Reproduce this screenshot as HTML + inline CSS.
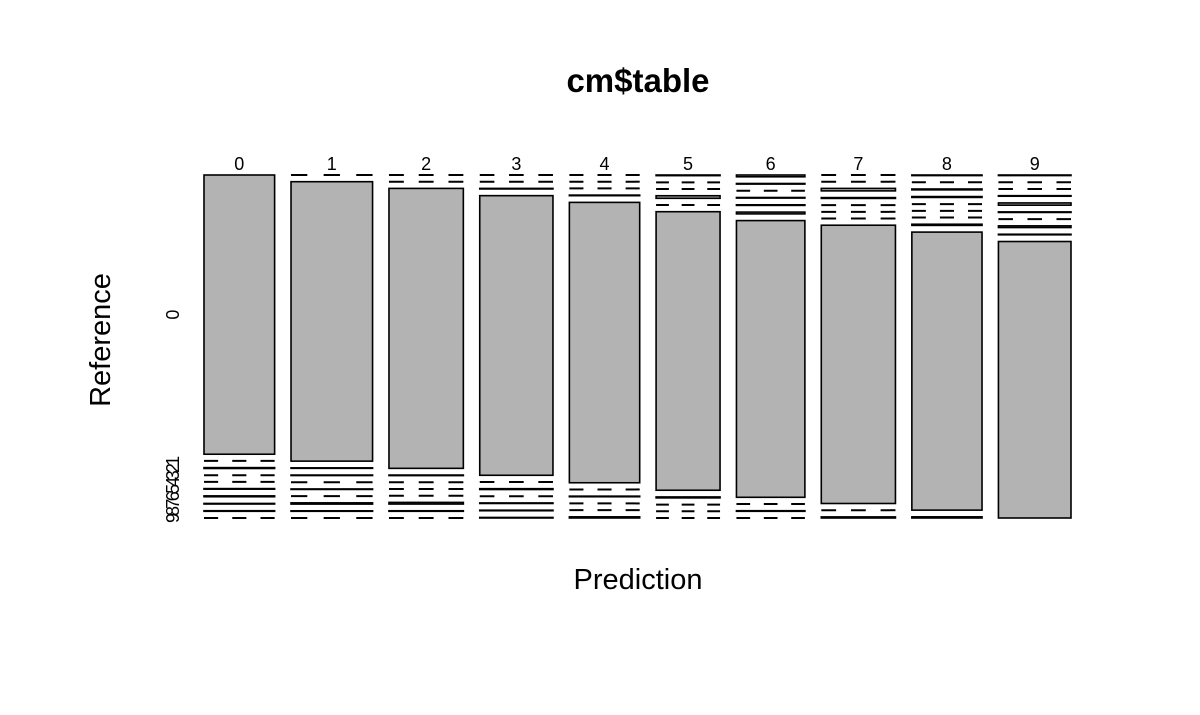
<!DOCTYPE html>
<html><head><meta charset="utf-8"><style>
html,body{margin:0;padding:0;background:#fff;}
svg{display:block;font-family:"Liberation Sans",Arial,sans-serif;}
</style></head><body>
<svg id="chart" width="1200" height="715" viewBox="0 0 1200 715">
<text x="638" y="92" text-anchor="middle" font-size="33" font-weight="bold">cm$table</text>
<text x="638" y="589" text-anchor="middle" font-size="29">Prediction</text>
<text transform="translate(110,340) rotate(-90)" text-anchor="middle" font-size="29">Reference</text>
<g id="marks"></g>
</svg>
<script>
const predLabels = ["0","1","2","3","4","5","6","7","8","9"];
const refLabels = ["0","1","2","3","4","5","6","7","8","9"];
// counts[prediction][reference]
const col0 = [963,0,3,0,0,2,3,2,2,0];
const col1 = [0,1113,2,2,0,2,0,5,2,0];
const col2 = [0,0,1017,2,0,0,0,6,2,0];
const col3 = [0,0,2,1000,0,3,0,2,2,2];
const col4 = [0,0,0,2,963,0,2,0,0,4];
const col5 = [2,0,0,8,0,870,3,0,0,0];
const col6 = [6,2,0,2,2,6,925,0,2,0];
const col7 = [0,0,9,3,0,0,0,1008,0,4];
const col8 = [2,0,3,3,0,0,0,4,953,4];
const col9 = [2,0,0,2,8,2,0,6,2,980];
const counts = [col0,col1,col2,col3,col4,col5,col6,col7,col8,col9];

const NS="http://www.w3.org/2000/svg";
const g=document.getElementById('marks');
const X0=204, X1=1071, Y0=175, Y1=518, GX=16.4, GY=6.7;
const totals=counts.map(c=>c.reduce((a,b)=>a+b,0));
const grand=totals.reduce((a,b)=>a+b,0);
const usableW=(X1-X0)-GX*(predLabels.length-1);
const usableH=(Y1-Y0)-GY*(refLabels.length-1);
function xw(j){return totals[j]/grand*usableW;}
let x=X0;
counts.forEach((col,j)=>{
  const w=xw(j);
  const lab=document.createElementNS(NS,'text');
  
  
  lab.setAttribute('x',x+w/2);lab.setAttribute('y',170);
  lab.setAttribute('text-anchor','middle');lab.setAttribute('font-size','18');
  lab.textContent=predLabels[j];g.appendChild(lab);
  let y=Y0;
  col.forEach((v,i)=>{
    const h=v/totals[j]*usableH;
    if(v===0){
      const l=document.createElementNS(NS,'line');
      
      
      l.setAttribute('x1',x);l.setAttribute('x2',x+w);l.setAttribute('y1',y);l.setAttribute('y2',y);
      const d=w/5;
      l.setAttribute('stroke','#000');l.setAttribute('stroke-width','2');l.setAttribute('stroke-dasharray',d+' '+d);
      g.appendChild(l);
    } else {
      const r=document.createElementNS(NS,'rect');
      
      
      r.setAttribute('x',x);r.setAttribute('y',y);r.setAttribute('width',w);r.setAttribute('height',h);
      r.setAttribute('fill','#b3b3b3');r.setAttribute('stroke','#000');r.setAttribute('stroke-width','1.6');
      g.appendChild(r);
    }
    if(j===0){
      const t=document.createElementNS(NS,'text');
      
      
      const cy=y+h/2;
      t.setAttribute('transform','translate(179,'+cy+') rotate(-90)');
      t.setAttribute('text-anchor','middle');t.setAttribute('font-size','18');
      t.textContent=refLabels[i];g.appendChild(t);
    }
    y+=h+GY;
  });
  x+=w+GX;
});
</script>
</body></html>
